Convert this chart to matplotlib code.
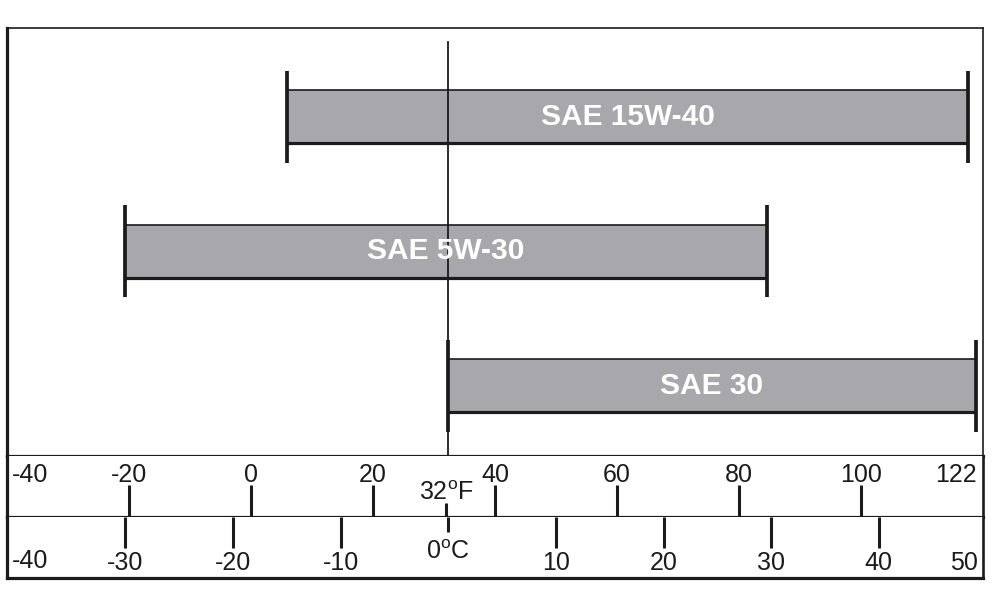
import matplotlib
matplotlib.use('Agg')
import matplotlib.pyplot as plt
import numpy as np

# ---- data ----
oils = ['SAE 15W-40', 'SAE 5W-30', 'SAE 30']
range_start_c = [-15.0, -30.0, 0.0]
range_end_c = [48.3, 29.6, 49.0]
f_ticks = [-20, 0, 20, 40, 60, 80, 100]
c_ticks = [-30, -20, -10, 10, 20, 30, 40]
f_edge_labels = ['-40', '122']
c_edge_labels = ['-40', '50']
freeze_f = 32
freeze_c = 0

plt.rcParams['font.family'] = ['Liberation Sans', 'DejaVu Sans']
plt.rcParams['mathtext.fontset'] = 'custom'
plt.rcParams['mathtext.rm'] = 'Liberation Sans'
INK = '#1b1b1b'
GRAY = '#a8a7ab'
FS = 18

W, H = 992, 608
fig = plt.figure(figsize=(W / 100, H / 100), dpi=100)


def rect(x0, y0, x1, y1):
    return [x0 / W, 1 - y1 / H, (x1 - x0) / W, (y1 - y0) / H]


ax = fig.add_axes(rect(7, 28, 983, 456))
ax_f = fig.add_axes(rect(7, 456, 983, 517))
ax_c = fig.add_axes(rect(7, 517, 983, 578))

# ---- main panel (Celsius scale) ----
start = np.array(range_start_c)
end = np.array(range_end_c)
rows = np.arange(len(oils))
ax.set_xlim(-41.0, 49.68)
ax.set_ylim(2.522, -0.660)
bh = 0.394
cap = 0.342
ax.barh(rows, end - start, left=start, height=bh, color=GRAY, zorder=1)
ax.hlines(rows - bh / 2, start, end, color=INK, lw=1.2, zorder=2)
ax.hlines(rows + bh / 2, start, end, color=INK, lw=2.3, zorder=2)
ax.axvline(freeze_c, ymin=0, ymax=0.967, color=INK, lw=1.3, zorder=2.5)
ax.vlines(start, rows - cap, rows + cap, color=INK, lw=2.7, zorder=3)
ax.vlines(end, rows - cap, rows + cap, color=INK, lw=2.7, zorder=3)
for r, s, e, name in zip(rows, start, end, oils):
    ax.text((s + e) / 2, r, name, ha='center', va='center', color='white',
            fontsize=21.5, fontweight='bold', zorder=4)
ax.set_xticks([])
ax.set_yticks([])
for side, lw in [('left', 2.3), ('top', 1.2), ('right', 1.2), ('bottom', 2.3)]:
    ax.spines[side].set_linewidth(lw)
    ax.spines[side].set_color(INK)

# ---- Fahrenheit row ----
ax_f.set_xlim(-40.02, 120.05)
ax_f.set_ylim(0, 1)
ax_f.set_yticks([])
ax_f.set_xticks(f_ticks)
ax_f.set_xticks([freeze_f], minor=True)
ax_f.tick_params(axis='x', which='major', direction='in', length=23, width=2.2,
                 color=INK, bottom=True, top=False, labelbottom=False)
ax_f.tick_params(axis='x', which='minor', direction='in', length=10, width=2.2,
                 color=INK, bottom=True, top=False, labelbottom=False)
trf = ax_f.get_xaxis_transform()
for t in f_ticks:
    ax_f.text(t, 0.574, str(t), transform=trf, ha='center', va='baseline',
              fontsize=FS, color=INK)
ax_f.text(0.005, 0.574, f_edge_labels[0], transform=ax_f.transAxes, ha='left',
          va='baseline', fontsize=FS, color=INK)
ax_f.text(0.994, 0.574, f_edge_labels[1], transform=ax_f.transAxes, ha='right',
          va='baseline', fontsize=FS, color=INK)
ax_f.text(freeze_f, 0.279, f'{freeze_f}' + r'$^{\mathrm{o}}$' + 'F', transform=trf,
          ha='center', va='baseline', fontsize=FS, color=INK)
ax_f.spines['top'].set_visible(False)
for side, lw in [('left', 2.3), ('right', 1.9), ('bottom', 2.3)]:
    ax_f.spines[side].set_linewidth(lw)
    ax_f.spines[side].set_color(INK)

# ---- Celsius row ----
ax_c.set_xlim(-41.0, 49.68)
ax_c.set_ylim(0, 1)
ax_c.set_yticks([])
ax_c.set_xticks(c_ticks)
ax_c.set_xticks([freeze_c], minor=True)
ax_c.tick_params(axis='x', which='major', direction='in', length=22.3, width=2.2,
                 color=INK, top=True, bottom=False, labelbottom=False)
ax_c.tick_params(axis='x', which='minor', direction='in', length=10.8, width=2.2,
                 color=INK, top=True, bottom=False, labelbottom=False)
trc = ax_c.get_xaxis_transform()
for t in c_ticks:
    ax_c.text(t, 0.139, str(t), transform=trc, ha='center', va='baseline',
              fontsize=FS, color=INK)
ax_c.text(0.005, 0.17, c_edge_labels[0], transform=ax_c.transAxes, ha='left',
          va='baseline', fontsize=FS, color=INK)
ax_c.text(0.995, 0.139, c_edge_labels[1], transform=ax_c.transAxes, ha='right',
          va='baseline', fontsize=FS, color=INK)
ax_c.text(freeze_c, 0.311, f'{freeze_c}' + r'$^{\mathrm{o}}$' + 'C', transform=trc,
          ha='center', va='baseline', fontsize=FS, color=INK)
ax_c.spines['top'].set_visible(False)
for side, lw in [('left', 2.3), ('right', 1.9), ('bottom', 2.3)]:
    ax_c.spines[side].set_linewidth(lw)
    ax_c.spines[side].set_color(INK)

fig.savefig('out.png', dpi=100)
